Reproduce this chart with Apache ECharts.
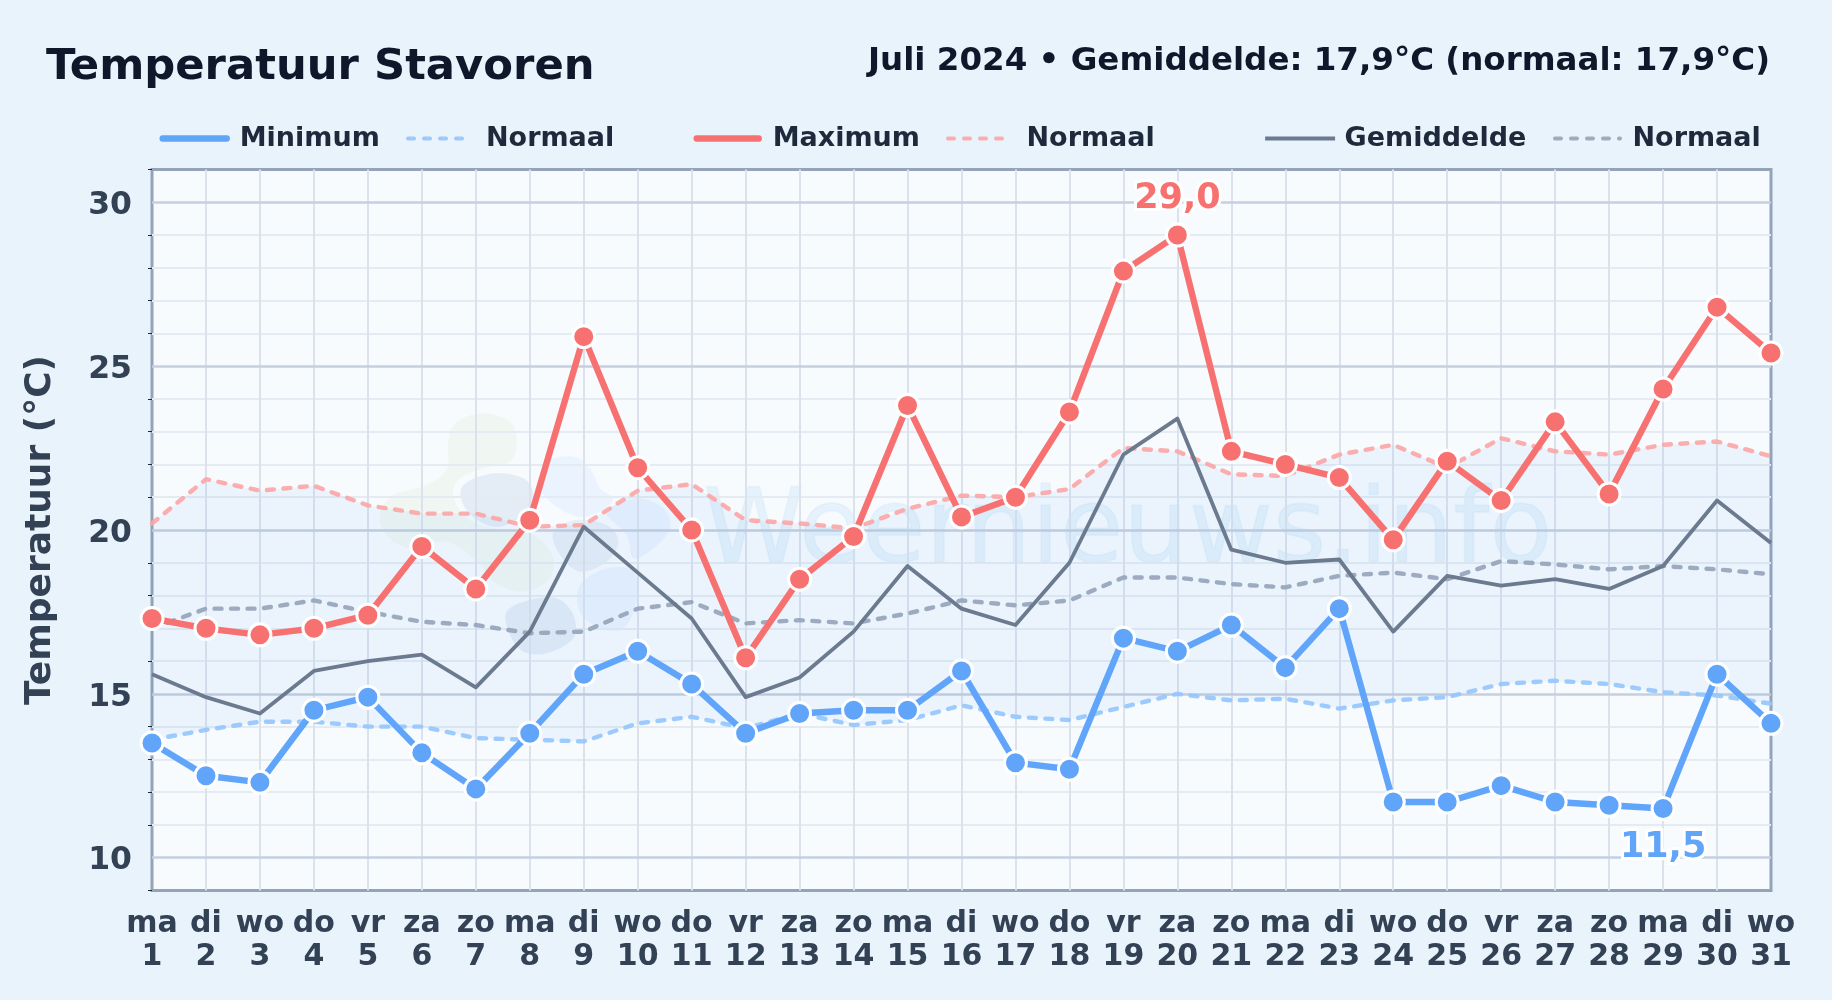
<!DOCTYPE html>
<html><head><meta charset="utf-8">
<style>html,body{margin:0;padding:0;background:#e9f3fc}#c{width:1832px;height:1000px}</style>
<script src="https://cdn.jsdelivr.net/npm/echarts@6/dist/echarts.min.js"></script>
</head><body><div id="c"></div>
<script>
const weekdays = ['ma','di','wo','do','vr','za','zo','ma','di','wo','do','vr','za','zo','ma','di','wo','do','vr','za','zo','ma','di','wo','do','vr','za','zo','ma','di','wo'];
const days = [1,2,3,4,5,6,7,8,9,10,11,12,13,14,15,16,17,18,19,20,21,22,23,24,25,26,27,28,29,30,31];
const tMax = [17.3,17.0,16.8,17.0,17.4,19.5,18.2,20.3,25.9,21.9,20.0,16.1,18.5,19.8,23.8,20.4,21.0,23.6,27.9,29.0,22.4,22.0,21.6,19.7,22.1,20.9,23.3,21.1,24.3,26.8,25.4];
const tMin = [13.5,12.5,12.3,14.5,14.9,13.2,12.1,13.8,15.6,16.3,15.3,13.8,14.4,14.5,14.5,15.7,12.9,12.7,16.7,16.3,17.1,15.8,17.6,11.7,11.7,12.2,11.7,11.6,11.5,15.6,14.1];
const tMean = [15.6,14.9,14.4,15.7,16.0,16.2,15.2,16.9,20.1,18.7,17.3,14.9,15.5,16.9,18.9,17.6,17.1,19.0,22.3,23.4,19.4,19.0,19.1,16.9,18.6,18.3,18.5,18.2,18.9,20.9,19.6];
const normMax = [20.2,21.55,21.2,21.35,20.75,20.5,20.5,20.1,20.15,21.2,21.4,20.3,20.2,20.05,20.65,21.05,21.0,21.25,22.5,22.4,21.7,21.65,22.3,22.6,21.9,22.8,22.4,22.3,22.6,22.7,22.25];
const normMin = [13.6,13.9,14.15,14.15,14.0,14.0,13.65,13.6,13.55,14.1,14.3,13.95,14.4,14.05,14.2,14.65,14.3,14.2,14.6,15.0,14.8,14.85,14.55,14.8,14.9,15.3,15.4,15.3,15.05,14.95,14.7];
const normMean = [17.0,17.6,17.6,17.85,17.5,17.2,17.1,16.85,16.9,17.6,17.8,17.15,17.25,17.15,17.45,17.85,17.7,17.85,18.55,18.55,18.35,18.25,18.6,18.7,18.5,19.05,18.95,18.8,18.9,18.8,18.65];
const majorTicks = [10,15,20,25,30];
const minorTicks = [9,11,12,13,14,16,17,18,19,21,22,23,24,26,27,28,29,31];
const titleText = 'Temperatuur Stavoren';
const subText = 'Juli 2024 • Gemiddelde: 17,9°C (normaal: 17,9°C)';
const FONT = '"DejaVu Sans"';

const categories = weekdays.map((w,i)=>w+'\n'+days[i]);
const C = {min:'#60a5fa',max:'#f87171',mean:'#6b7a8f',nMin:'rgba(147,197,253,.9)',nMax:'rgba(252,165,165,.9)',nMean:'rgba(148,163,184,.9)'};

function marked(arr, idx, color, pos, dist){
  return arr.map((v,i)=> i===idx ? {value:v,label:{show:true,position:pos,distance:dist,
    formatter:()=>v.toFixed(1).replace('.',','),color:color,fontFamily:FONT,fontWeight:'bold',fontSize:35,
    textBorderColor:'#fff',textBorderWidth:6}} : v);
}
function mainLine(name,data,color){
  return {type:'line',name,data,z:6,clip:false,symbol:'circle',symbolSize:22,showSymbol:true,
    lineStyle:{color,width:6.4,cap:'round',join:'round'},
    itemStyle:{color,borderColor:'#fff',borderWidth:3}};
}
function normLine(data,color){
  return {type:'line',name:'Normaal',data,z:3,symbol:'none',
    lineStyle:{color,width:4.4,type:[7,9.5],cap:'round'},itemStyle:{color}};
}
function leg(name,left,width,color,lw,gap,dash){
  return {show:true,selectedMode:false,left,top:125,orient:'horizontal',itemWidth:width,itemHeight:26,padding:0,
    data:[{name,itemStyle:{opacity:0},lineStyle:{color,width:lw,cap:dash?'round':(name==='Gemiddelde'?'butt':'round'),type:dash||'solid',opacity:1},
      textStyle:{color:'#1e293b',fontFamily:FONT,fontWeight:'bold',fontSize:27,padding:[0,0,0,gap-5]}}]};
}
// decorative logo shapes behind the chart: closed Catmull-Rom outlines sampled to fine polygons
function blob(pts,fill){
  const p = pts.map(q=>[360+q[0]/3,395+q[1]/3]), n = p.length, out = [];
  for(let i=0;i<n;i++){
    const a=p[(i-1+n)%n], b=p[i], c=p[(i+1)%n], e=p[(i+2)%n];
    for(let k=0;k<12;k++){
      const t=k/12,t2=t*t,t3=t2*t;
      out.push([0,1].map(j=>0.5*(2*b[j]+(c[j]-a[j])*t+(2*a[j]-5*b[j]+4*c[j]-e[j])*t2+(3*b[j]-a[j]-3*c[j]+e[j])*t3)));
    }
  }
  return {type:'polygon',z:0,silent:true,shape:{points:out},style:{fill}};
}
const blobs = [
 blob([[290,80],[370,55],[450,80],[470,140],[450,200],[370,220],[300,250],[280,300],[320,370],[400,400],[520,420],[580,490],[560,560],[480,590],[400,560],[350,500],[260,440],[150,460],[80,420],[60,360],[100,300],[200,270],[260,220],[265,140]],'rgba(190,225,160,.12)'),
 blob([[310,270],[400,235],[490,250],[520,300],[490,360],[420,395],[360,380],[310,330]],'rgba(100,140,190,.13)'),
 blob([[560,200],[640,185],[690,220],[720,280],[760,310],[720,350],[650,365],[570,320],[540,270]],'rgba(96,165,250,.08)'),
 blob([[740,350],[830,310],[910,340],[930,400],[880,460],[820,490],[800,420]],'rgba(96,165,250,.09)'),
 blob([[580,410],[650,375],[740,390],[775,440],[740,500],[660,530],[600,480]],'rgba(100,140,190,.1)'),
 blob([[660,570],[740,520],[820,530],[830,620],[790,700],[720,700],[660,650]],'rgba(96,165,250,.09)'),
 blob([[440,650],[510,615],[590,610],[640,660],[640,730],[560,775],[490,770],[450,720]],'rgba(100,140,190,.13)')
];

const chart = echarts.init(document.getElementById('c'),null,{renderer:'canvas'});
chart.setOption({
  animation:false,
  backgroundColor:'#e9f3fc',
  title:[
    {text:titleText,left:46,top:46,padding:0,textStyle:{fontFamily:FONT,fontWeight:'bold',fontSize:43.3,color:'#0f172a'}},
    {text:subText,right:62,top:45,padding:0,textStyle:{fontFamily:FONT,fontWeight:'bold',fontSize:32.5,color:'#0f172a'}}
  ],
  legend:[
    leg('Minimum',159.5,64,C.min,6.4,13),
    leg('Normaal',406,58,C.nMin,4,20,[6,10]),
    leg('Maximum',693.5,62,C.max,6.4,14),
    leg('Normaal',946,61,C.nMax,4,17.5,[6,10]),
    leg('Gemiddelde',1263,70,C.mean,4.2,9.5),
    leg('Normaal',1553,65,C.nMean,4,12.5,[6,10])
  ],
  grid:{left:152,right:61,top:169.5,bottom:109.5,show:true,backgroundColor:'rgba(255,255,255,.62)',borderColor:'#94a3b8',borderWidth:3},
  graphic:{elements:[...blobs,
    {type:'text',z:0,silent:true,left:702,top:483,style:{text:'Weernieuws.info',fontFamily:FONT,fontSize:103,fill:'rgba(56,150,220,.09)',stroke:'rgba(56,150,220,.04)',lineWidth:2}}
  ]},
  xAxis:{type:'category',data:categories,boundaryGap:false,
    axisLine:{show:false},axisTick:{show:false},
    splitLine:{show:true,showMinLine:false,showMaxLine:false,lineStyle:{color:'#dbe2ec',width:2}},
    axisLabel:{interval:0,margin:17,color:'#334155',fontFamily:FONT,fontWeight:'bold',fontSize:30,lineHeight:33}},
  yAxis:{type:'value',min:9,max:31,interval:1,
    name:'Temperatuur (°C)',nameLocation:'middle',nameRotate:90,nameGap:93.5,
    nameTextStyle:{color:'#334155',fontFamily:FONT,fontWeight:'bold',fontSize:36},
    axisLine:{show:false},
    axisTick:{show:true,length:4,customValues:minorTicks,lineStyle:{color:'#1e293b',width:1}},
    axisLabel:{customValues:majorTicks,margin:20,formatter:'{a|{value}}',
      rich:{a:{padding:[7,0,0,0],color:'#334155',fontFamily:FONT,fontWeight:'bold',fontSize:31.5}}},
    splitLine:{show:true,showMinLine:false,showMaxLine:false,lineStyle:{color:'#e5ebf3',width:2}}},
  series:[
    {type:'line',name:'_base',data:normMin,stack:'band',symbol:'none',z:2,lineStyle:{opacity:0},
     markLine:{silent:true,symbol:'none',z:1,label:{show:false},lineStyle:{color:'#c5cfe0',width:2.6,type:'solid'},
       data:majorTicks.map(v=>({yAxis:v}))}},
    {type:'line',name:'_band',data:normMax.map((v,i)=>+(v-normMin[i]).toFixed(2)),stack:'band',symbol:'none',z:2,
     lineStyle:{opacity:0},areaStyle:{color:'rgba(50,140,235,.085)'}},
    normLine(normMin,C.nMin),
    normLine(normMax,C.nMax),
    normLine(normMean,C.nMean),
    {type:'line',name:'Gemiddelde',data:tMean,z:4,symbol:'none',lineStyle:{color:C.mean,width:3.8,join:'round'},itemStyle:{color:C.mean}},
    mainLine('Minimum',marked(tMin,28,C.min,'bottom',9),C.min),
    mainLine('Maximum',marked(tMax,19,C.max,'top',6),C.max)
  ]
});
</script></body></html>
